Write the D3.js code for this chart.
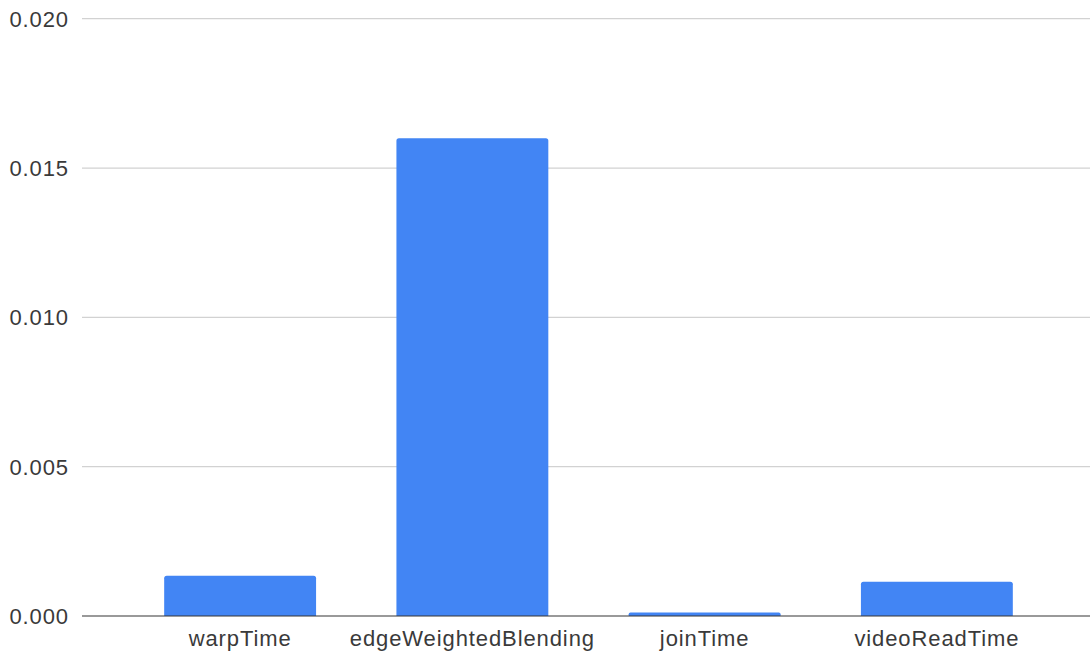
<!DOCTYPE html>
<html>
<head>
<meta charset="utf-8">
<script src="https://cdn.jsdelivr.net/npm/d3@7"></script>
<style>
  html, body { margin: 0; padding: 0; background: #fff; }
  svg { display: block; }
  text { font-family: "Liberation Sans", Arial, sans-serif; font-size: 22px; fill: #3a3a3a; letter-spacing: 0.9px; }
</style>
</head>
<body>
<svg id="chart" width="1090" height="654"></svg>
<script>
// Timing breakdown per stage (seconds)
const categories = ["warpTime", "edgeWeightedBlending", "joinTime", "videoReadTime"];
const values = [0.00135, 0.016, 0.00012, 0.00115];
const yTicks = [0, 0.005, 0.01, 0.015, 0.02];

const W = 1090, H = 654;
const plot = { left: 82, right: 1090, top: 18.7, bottom: 616 };

const svg = d3.select("#chart");

const x = d3.scaleBand()
  .domain(categories)
  .range([124, 1053])
  .paddingInner(0.346)
  .paddingOuter(0.173);

const y = d3.scaleLinear()
  .domain([0, 0.02])
  .range([plot.bottom, plot.top]);

// horizontal gridlines
svg.append("g")
  .selectAll("line")
  .data(yTicks.filter(d => d > 0))
  .join("line")
  .attr("x1", plot.left)
  .attr("x2", plot.right)
  .attr("y1", d => y(d))
  .attr("y2", d => y(d))
  .attr("stroke", "#d2d2d2")
  .attr("stroke-width", 1.3);

// y tick labels
svg.append("g")
  .selectAll("text")
  .data(yTicks)
  .join("text")
  .attr("x", 69)
  .attr("y", d => y(d))
  .attr("dy", "0.36em")
  .attr("text-anchor", "end")
  .text(d => d3.format(".3f")(d));

// bars with slightly rounded top corners
const r = 2.5;
function barPath(x0, w, yTop, yBase) {
  const rr = Math.min(r, (yBase - yTop) / 2, w / 2);
  return `M${x0},${yBase}V${yTop + rr}Q${x0},${yTop} ${x0 + rr},${yTop}` +
         `H${x0 + w - rr}Q${x0 + w},${yTop} ${x0 + w},${yTop + rr}V${yBase}Z`;
}

svg.append("g")
  .selectAll("path")
  .data(categories.map((c, i) => ({ c, v: values[i] })))
  .join("path")
  .attr("d", d => barPath(x(d.c), x.bandwidth(), y(d.v), y(0)))
  .attr("fill", "#4285f4");

// baseline
svg.append("line")
  .attr("x1", plot.left)
  .attr("x2", plot.right)
  .attr("y1", y(0))
  .attr("y2", y(0))
  .attr("stroke", "#333")
  .attr("stroke-opacity", 0.5)
  .attr("stroke-width", 1.8);

// category labels
svg.append("g")
  .selectAll("text")
  .data(categories)
  .join("text")
  .attr("x", d => x(d) + x.bandwidth() / 2)
  .attr("y", 646)
  .attr("text-anchor", "middle")
  .text(d => d);
</script>
</body>
</html>
